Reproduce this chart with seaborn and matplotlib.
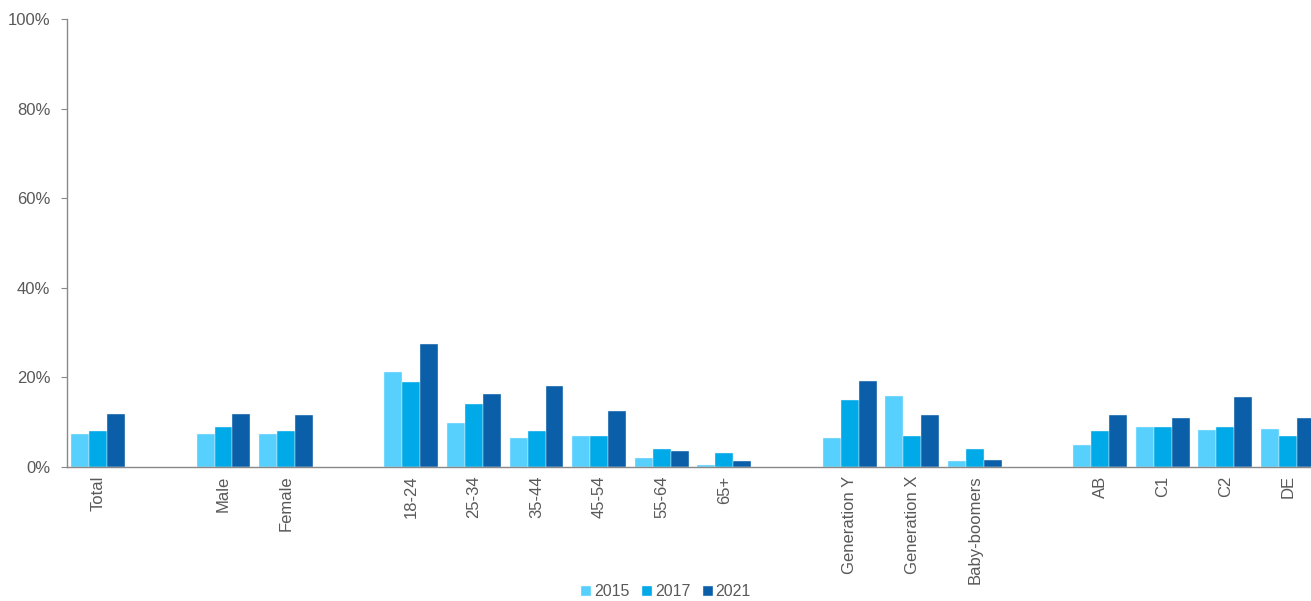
import matplotlib
matplotlib.use("Agg")
import matplotlib.pyplot as plt
import seaborn as sns
import pandas as pd
from matplotlib.ticker import FuncFormatter

sns.set_style("white")
plt.rcParams['font.family'] = ['Liberation Sans', 'DejaVu Sans']

categories = ["Total", "Male", "Female", "18-24", "25-34", "35-44", "45-54", "55-64", "65+",
              "Generation Y", "Generation X", "Baby-boomers", "AB", "C1", "C2", "DE"]
years = ["2015", "2017", "2021"]
v2015 = [7.4, 7.4, 7.4, 21.3, 9.8, 6.5, 7.0, 2.1, 0.5, 6.5, 15.9, 1.4, 4.9, 8.9, 8.3, 8.5]
v2017 = [8.0, 9.0, 8.0, 19.0, 14.1, 8.0, 7.0, 4.0, 3.1, 15.0, 7.0, 4.0, 8.0, 9.0, 9.0, 7.0]
v2021 = [11.8, 11.9, 11.6, 27.5, 16.2, 18.1, 12.5, 3.6, 1.3, 19.3, 11.5, 1.6, 11.5, 10.9, 15.6, 11.0]
colors = ["#57D0FD", "#00A9E7", "#0B5EA8"]

# slot order including blank gap slots
order = ["Total", "_g1", "Male", "Female", "_g2", "18-24", "25-34", "35-44", "45-54", "55-64", "65+",
         "_g3", "Generation Y", "Generation X", "Baby-boomers", "_g4", "AB", "C1", "C2", "DE"]

rows = []
for y, vals in zip(years, [v2015, v2017, v2021]):
    for c, v in zip(categories, vals):
        rows.append({"cat": c, "year": y, "val": v})
df = pd.DataFrame(rows)

fig = plt.figure(figsize=(13.11, 6.01), dpi=100)
ax = fig.add_axes([67/1311, 1-467/601, 1-67/1311, (467-19)/601])

sns.barplot(data=df, x="cat", y="val", hue="year", order=order, hue_order=years,
            palette=colors, width=0.86, edgecolor="#EAF6FD", linewidth=0.3,
            saturation=1, ax=ax, legend=True)

ax.set_ylim(0, 100)
ax.set_yticks([0, 20, 40, 60, 80, 100])
ax.yaxis.set_major_formatter(FuncFormatter(lambda v, p: f"{int(v)}%"))
ax.set_xlim(-0.5, 19.37)
ax.set_xlabel("")
ax.set_ylabel("")

labels = ["" if o.startswith("_g") else o for o in order]
ax.set_xticks(range(len(order)))
ax.set_xticklabels(labels, rotation=90, fontsize=12, color="#595959")
ax.tick_params(axis="x", length=0, pad=6)
ax.tick_params(axis="y", length=4, width=0.8, color="#898989", labelsize=12,
               labelcolor="#595959", pad=8, direction="out", left=True)

for s in ["top", "right"]:
    ax.spines[s].set_visible(False)
for s in ["left", "bottom"]:
    ax.spines[s].set_color("#898989")
    ax.spines[s].set_linewidth(1.0)

leg = ax.get_legend()
handles = leg.legend_handles
leg.remove()
fig.legend(handles, years, loc="center", bbox_to_anchor=(666/1311, 1-592/601), ncol=3,
           frameon=False, fontsize=11.5, handlelength=0.65, handleheight=0.65,
           handletextpad=0.15, columnspacing=0.8, labelcolor="#595959",
           borderpad=0.1)

fig.savefig("out.png", dpi=100)
